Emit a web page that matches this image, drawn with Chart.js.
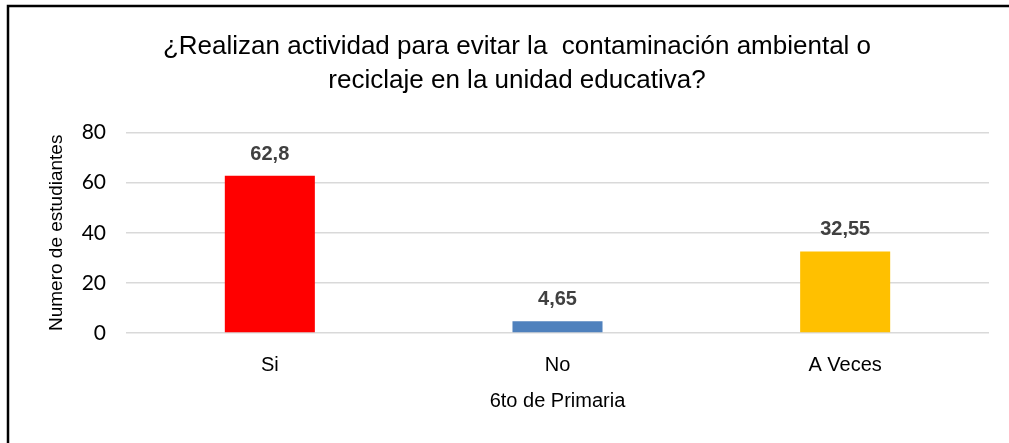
<!DOCTYPE html>
<html>
<head>
<meta charset="utf-8">
<script src="https://cdn.jsdelivr.net/npm/chart.js@4/dist/chart.umd.min.js"></script>
<style>
  html, body { margin:0; padding:0; background:#fff; }
  #wrap { width:1009px; height:443px; position:relative; }
</style>
</head>
<body>
<div id="wrap"><canvas id="chart" width="1009" height="443"></canvas></div>
<script>
// ======================================
// Data
// ======================================

const categories = ["Si", "No", "A Veces"];

const values = [62.8, 4.65, 32.55];

const valueLabels = ["62,8", "4,65", "32,55"];

const barColors = ["#FF0000", "#4F81BD", "#FFC000"];

const titleLines = [
    "¿Realizan actividad para evitar la  contaminación ambiental o",
    "reciclaje en la unidad educativa?"
];

const NARROW = "'Liberation Sans Narrow', 'Arial Narrow', 'Liberation Sans', Arial, sans-serif";

// ======================================
// Plugins
// ======================================

const frame = {
    id:"frame",
    beforeDraw(chart){
        const c = chart.ctx;
        c.save();
        c.fillStyle = "#fff";
        c.fillRect(0,0,chart.width,chart.height);
        c.strokeStyle = "#000";
        c.lineWidth = 2.5;
        c.strokeRect(8,6,1100,600);
        c.restore();
    }
};

const barLabels = {
    id:"barLabels",
    afterDatasetsDraw(chart){
        const c = chart.ctx;
        const meta = chart.getDatasetMeta(0);
        c.save();
        c.font = "bold 20px " + NARROW;
        c.fillStyle = "#404040";
        c.textAlign = "center";
        c.textBaseline = "alphabetic";
        meta.data.forEach((bar,i)=>{
            c.fillText(valueLabels[i], bar.x, bar.y - 16);
        });
        c.restore();
    }
};

// ======================================
// Chart
// ======================================

new Chart(document.getElementById("chart"),{

    type:"bar",

    data:{
        labels:categories,
        datasets:[{
            data:values,
            backgroundColor:barColors,
            borderWidth:0,
            barPercentage:0.313,
            categoryPercentage:1
        }]
    },

    options:{
        responsive:false,
        animation:false,
        layout:{ padding:{ left:45, right:20, top:5, bottom:30 } },
        plugins:{
            legend:{ display:false },
            tooltip:{ enabled:false },
            title:{
                display:true,
                text:titleLines,
                color:"#000",
                font:{ family:NARROW, size:26, weight:"normal", lineHeight:1.3 },
                padding:{ top:25, bottom:35 }
            }
        },
        scales:{
            x:{
                grid:{ display:false },
                border:{ display:false },
                ticks:{
                    color:"#000",
                    font:{ family:NARROW, size:20 },
                    padding:12
                },
                title:{
                    display:true,
                    text:"6to de Primaria",
                    color:"#000",
                    font:{ family:NARROW, size:20 },
                    padding:{ top:0, bottom:0 }
                }
            },
            y:{
                min:0,
                max:80,
                afterFit(scale){ scale.width = 81; },
                grid:{ color:"#D9D9D9", lineWidth:1.5, drawTicks:false },
                border:{ display:false },
                ticks:{
                    stepSize:20,
                    color:"#000",
                    font:{ family:"Lato, Carlito, 'Open Sans', sans-serif", size:21 },
                    padding:20
                },
                title:{
                    display:true,
                    text:"Numero de estudiantes",
                    color:"#000",
                    font:{ family:NARROW, size:19 },
                    padding:{ top:0, bottom:4 }
                }
            }
        }
    },

    plugins:[frame, barLabels]

});
</script>
</body>
</html>
